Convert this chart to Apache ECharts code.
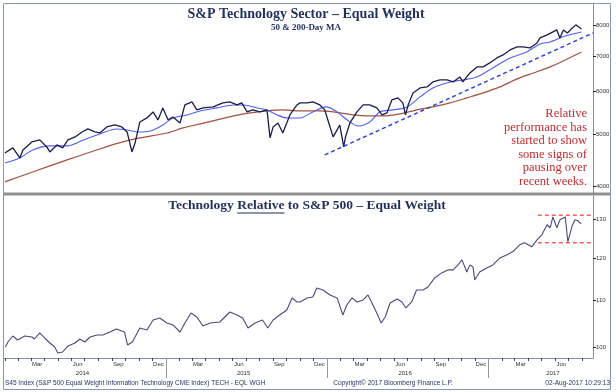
<!DOCTYPE html>
<html><head><meta charset="utf-8">
<script src="https://cdn.jsdelivr.net/npm/echarts@6/dist/echarts.min.js"></script>
<style>html,body{margin:0;padding:0;background:#fff}#c{width:616px;height:392px}</style>
</head><body><div id="c"></div>
<script>
// ---- data ----
const techPrice = [['2014-01-01',4610],['2014-01-19',4711],['2014-02-04',4512],['2014-02-11',4670],['2014-03-03',4834],['2014-03-21',4876],['2014-04-06',4731],['2014-04-13',4630],['2014-04-29',4772],['2014-05-12',4711],['2014-05-24',4876],['2014-06-09',4939],['2014-06-25',5046],['2014-07-08',5112],['2014-07-24',5046],['2014-08-04',5024],['2014-08-20',5156],['2014-09-07',5200],['2014-09-23',5156],['2014-10-05',5046],['2014-10-16',4630],['2014-10-23',4813],['2014-11-03',5268],['2014-11-19',5360],['2014-12-03',5500],['2014-12-14',5314],['2014-12-25',5596],['2015-01-06',5314],['2015-01-17',5383],['2015-02-02',5245],['2015-02-13',5668],['2015-03-01',5742],['2015-03-12',5548],['2015-03-26',5596],['2015-04-18',5620],['2015-05-10',5718],['2015-05-26',5742],['2015-06-11',5668],['2015-06-22',5718],['2015-07-04',5500],['2015-07-17',5548],['2015-08-02',5500],['2015-08-18',5548],['2015-08-25',4918],['2015-09-01',5156],['2015-09-12',5245],['2015-09-23',5024],['2015-10-09',5429],['2015-10-25',5668],['2015-11-01',5718],['2015-11-17',5718],['2015-11-30',5742],['2015-12-16',5668],['2015-12-27',5548],['2016-01-08',5156],['2016-01-15',4939],['2016-01-24',5090],['2016-01-30',5200],['2016-02-08',4731],['2016-02-12',4939],['2016-02-22',5245],['2016-03-09',5500],['2016-03-23',5668],['2016-04-07',5668],['2016-04-23',5596],['2016-05-05',5429],['2016-05-16',5476],['2016-05-27',5792],['2016-06-10',5842],['2016-06-21',5718],['2016-06-27',5429],['2016-07-03',5668],['2016-07-14',5969],['2016-07-30',6099],['2016-08-15',6125],['2016-08-28',6258],['2016-09-13',6312],['2016-09-29',6312],['2016-10-13',6258],['2016-10-28',6394],['2016-11-04',6258],['2016-11-20',6505],['2016-12-06',6676],['2016-12-20',6676],['2017-01-04',6792],['2017-01-20',6939],['2017-02-03',7030],['2017-02-19',7182],['2017-03-07',7276],['2017-03-20',7276],['2017-04-05',7244],['2017-04-21',7402],['2017-04-28',7563],['2017-05-14',7661],['2017-06-05',7828],['2017-06-12',7563],['2017-06-20',7828],['2017-06-29',7727],['2017-07-10',7896],['2017-07-18',8000],['2017-07-25',7930],['2017-07-31',7862]];
const ma50 = [['2014-01-01',4416],['2014-02-04',4512],['2014-03-05',4670],['2014-04-13',4752],['2014-05-22',4752],['2014-06-28',4876],['2014-08-04',5003],['2014-09-11',5112],['2014-10-05',5090],['2014-10-28',5046],['2014-11-27',5068],['2014-12-25',5200],['2015-01-17',5360],['2015-02-18',5429],['2015-03-20',5524],['2015-04-27',5596],['2015-06-04',5668],['2015-06-26',5668],['2015-07-27',5596],['2015-08-18',5548],['2015-09-10',5429],['2015-10-03',5360],['2015-11-01',5360],['2015-11-30',5500],['2015-12-30',5620],['2016-01-24',5500],['2016-02-16',5314],['2016-03-11',5178],['2016-04-07',5268],['2016-04-30',5500],['2016-05-30',5548],['2016-07-01',5620],['2016-07-30',5867],['2016-08-28',6099],['2016-10-06',6258],['2016-11-04',6312],['2016-12-06',6394],['2017-01-11',6647],['2017-02-19',6939],['2017-03-29',7121],['2017-04-28',7370],['2017-05-21',7434],['2017-06-24',7628],['2017-07-31',7761]];
const ma200 = [['2014-01-01',4070],['2014-03-05',4248],['2014-05-22',4474],['2014-08-04',4690],['2014-09-25',4834],['2014-11-03',4918],['2015-01-04',5024],['2015-02-09',5134],['2015-03-20',5223],['2015-04-27',5314],['2015-06-04',5406],['2015-07-11',5476],['2015-08-18',5524],['2015-09-23',5548],['2015-11-01',5524],['2015-12-16',5524],['2016-01-15',5500],['2016-03-01',5429],['2016-04-01',5406],['2016-05-07',5406],['2016-06-14',5453],['2016-07-23',5548],['2016-08-28',5620],['2016-10-06',5718],['2016-11-13',5842],['2016-12-20',5969],['2017-01-27',6125],['2017-03-07',6340],['2017-04-13',6505],['2017-05-21',6676],['2017-07-31',7121]];
const trendLine = [['2015-12-27',4571],['2017-08-26',7727]];
const relative = [['2014-01-02',100.0],['2014-01-08',101.03],['2014-01-19',102.28],['2014-01-30',101.45],['2014-02-15',102.28],['2014-03-03',102.07],['2014-03-09',101.65],['2014-03-21',102.91],['2014-04-01',101.86],['2014-04-13',100.82],['2014-04-24',100.0],['2014-05-01',98.78],['2014-05-12',98.98],['2014-05-24',100.21],['2014-06-09',100.82],['2014-06-20',101.65],['2014-07-01',101.03],['2014-07-13',102.07],['2014-07-29',102.49],['2014-08-11',102.49],['2014-08-27',103.12],['2014-09-11',103.76],['2014-09-29',103.12],['2014-10-06',100.41],['2014-10-17',101.03],['2014-11-03',103.97],['2014-11-19',103.54],['2014-12-03',105.69],['2014-12-18',106.12],['2015-01-03',105.04],['2015-01-17',104.61],['2015-02-02',103.12],['2015-02-13',105.04],['2015-02-27',107.21],['2015-03-12',106.34],['2015-03-26',104.40],['2015-04-11',105.04],['2015-05-03',105.25],['2015-05-26',107.43],['2015-06-11',106.78],['2015-06-24',106.12],['2015-07-06',103.97],['2015-07-22',105.04],['2015-08-08',105.69],['2015-08-20',103.97],['2015-09-01',105.69],['2015-09-16',106.78],['2015-10-02',107.88],['2015-10-14',110.57],['2015-10-25',109.66],['2015-11-01',109.66],['2015-11-17',110.57],['2015-11-30',110.79],['2015-12-09',112.85],['2015-12-23',112.39],['2016-01-08',111.25],['2016-01-24',110.57],['2016-02-06',106.78],['2016-02-15',108.99],['2016-02-27',110.57],['2016-03-09',109.66],['2016-03-23',110.11],['2016-04-03',111.25],['2016-04-12',109.44],['2016-04-23',107.21],['2016-05-03',105.04],['2016-05-12',106.34],['2016-05-23',109.44],['2016-06-08',110.34],['2016-06-19',109.66],['2016-06-28',108.32],['2016-07-11',109.66],['2016-07-22',112.39],['2016-08-06',112.39],['2016-08-17',113.08],['2016-09-01',115.19],['2016-09-17',116.38],['2016-10-01',117.10],['2016-10-13',117.10],['2016-10-24',118.31],['2016-11-02',119.53],['2016-11-13',116.62],['2016-11-20',118.31],['2016-11-27',117.82],['2016-12-01',114.72],['2016-12-12',116.62],['2016-12-28',117.58],['2017-01-11',118.31],['2017-01-27',120.02],['2017-02-11',120.76],['2017-02-25',121.51],['2017-03-13',123.28],['2017-03-24',123.78],['2017-04-09',122.77],['2017-04-21',124.55],['2017-05-02',125.84],['2017-05-14',128.45],['2017-05-21',127.66],['2017-05-27',130.53],['2017-06-05',127.66],['2017-06-12',129.75],['2017-06-24',130.53],['2017-06-30',124.04],['2017-07-09',127.92],['2017-07-16',129.75],['2017-07-23',129.49],['2017-07-30',128.71]];
const rangeTop = [['2017-04-23',131.0],['2017-08-26',131.0]];
const rangeBottom = [['2017-04-23',123.8],['2017-08-26',123.8]];
const topTicks = [4000,5000,6000,7000,8000];
const bottomTicks = [100,110,120,130];
const monthNames = ['Jan','Feb','Mar','Apr','May','Jun','Jul','Aug','Sep','Oct','Nov','Dec'];
const labelMonths = [2,5,8,11];
const years = [2014,2015,2016,2017];
const titleTop = 'S&P Technology Sector \u2013 Equal Weight';
const subTitleTop = '50 & 200-Day MA';
const titleBottomParts = ['Technology ','Relative',' to S&P 500 \u2013 Equal Weight'];
const annotationLines = ['Relative','performance has','started to show','some signs of','pausing over','recent weeks.'];
const footerLeft = 'S45 Index (S&P 500 Equal Weight Information Technology CME Index) TECH - EQL WGH';
const footerMid = 'Copyright\u00a9 2017 Bloomberg Finance L.P.';
const footerRight = '02-Aug-2017 10:29:13';

// ---- helpers ----
const toTs = (s) => { const p = s.split('-').map(Number); return new Date(p[0], p[1]-1, p[2]).getTime(); };
const asXY = (arr) => arr.map(d => [toTs(d[0]), d[1]]);

const xMin = new Date(2013,11,30).getTime();
const xMax = new Date(2017,7,26).getTime();
const monthTicks = [];
const monthLabelVals = [];
const yearTicks = [];
const yearLabelVals = [];
years.forEach(y => {
  for (let m = 0; m < 12; m++) monthTicks.push(new Date(y,m,1).getTime());
  labelMonths.forEach(m => monthLabelVals.push(new Date(y,m,15).getTime()));
  if (y > years[0]) yearTicks.push(new Date(y,0,1).getTime());
  yearLabelVals.push(y === 2017 ? new Date(y,4,27).getTime() : new Date(y,5,26).getTime());
});
const inRange = (arr) => arr.filter(v => v >= xMin && v <= xMax);

const serif = '"Liberation Serif", "DejaVu Serif", serif';
const sans = '"Liberation Sans", Arial, sans-serif';
const navy = '#1f2f5e';

const ctx = document.createElement('canvas').getContext('2d');
const tFont = 'bold 13.5px ' + serif;
ctx.font = tFont;
const wAll = ctx.measureText(titleBottomParts.join('')).width;
const w0 = ctx.measureText(titleBottomParts[0]).width;
const w1 = ctx.measureText(titleBottomParts[1]).width;
const tCx = 307, tY = 206;
const tLeft = tCx - wAll/2;

const chart = echarts.init(document.getElementById('c'), null, {renderer:'canvas'});
const yAxisCommon = (ticks) => ({
  type:'log', logBase:10, position:'right',
  axisLine:{show:true, lineStyle:{color:'#7d8db3', width:1}},
  axisTick:{show:true, customValues:ticks, length:3, lineStyle:{color:'#222', width:1}},
  axisLabel:{customValues:ticks, fontSize:6, color:'#333', margin:3, fontFamily:sans, formatter:(v)=>String(Math.round(v))},
  splitLine:{show:false},
  name:'Log', nameLocation:'middle', nameRotate:-90, nameGap:8,
  nameTextStyle:{color:'#b5b5b5', fontSize:13, fontFamily:sans}
});
chart.setOption({
  animation:false,
  grid:[
    {left:4, right:23, top:3, height:190, outerBoundsMode:'none', containLabel:false},
    {left:4, right:23, top:196, height:162, outerBoundsMode:'none', containLabel:false}
  ],
  xAxis:[
    {type:'value', gridIndex:0, min:xMin, max:xMax, show:false},
    {type:'value', gridIndex:1, min:xMin, max:xMax,
     axisLine:{show:true, lineStyle:{color:'#7d8db3', width:1}},
     axisTick:{show:true, customValues:inRange(monthTicks), length:3, lineStyle:{color:'#444'}},
     axisLabel:{customValues:inRange(monthLabelVals), fontSize:6, color:'#333', margin:3, fontFamily:sans,
       formatter:(v)=>monthNames[new Date(v).getMonth()]},
     splitLine:{show:false}},
    {type:'value', gridIndex:1, min:xMin, max:xMax, position:'bottom',
     axisLine:{show:false},
     axisTick:{show:true, customValues:yearTicks, length:20, lineStyle:{color:'#999'}},
     axisLabel:{customValues:yearLabelVals, fontSize:6, color:'#333', margin:12, fontFamily:sans,
       formatter:(v)=>String(new Date(v).getFullYear())},
     splitLine:{show:false}}
  ],
  yAxis:[
    Object.assign(yAxisCommon(topTicks), {gridIndex:0, min:3880, max:8790}),
    Object.assign(yAxisCommon(bottomTicks), {gridIndex:1, min:97.77, max:136.24})
  ],
  series:[
    {type:'line', xAxisIndex:0, yAxisIndex:0, data:asXY(ma200), showSymbol:false, smooth:0.3,
     lineStyle:{color:'#a3513e', width:1.2}, z:2},
    {type:'line', xAxisIndex:0, yAxisIndex:0, data:asXY(ma50), showSymbol:false, smooth:0.3,
     lineStyle:{color:'#4f61f3', width:1.1}, z:3},
    {type:'line', xAxisIndex:0, yAxisIndex:0, data:asXY(techPrice), showSymbol:false,
     lineStyle:{color:'#1b1d4a', width:1.3}, z:4},
    {type:'line', xAxisIndex:0, yAxisIndex:0, data:asXY(trendLine), showSymbol:false,
     lineStyle:{color:'#3346dd', width:1.5, type:[4,3]}, z:5},
    {type:'line', xAxisIndex:1, yAxisIndex:1, data:asXY(relative), showSymbol:false,
     lineStyle:{color:'#4a4a7c', width:1.1}, z:4},
    {type:'line', xAxisIndex:1, yAxisIndex:1, data:asXY(rangeTop), showSymbol:false,
     lineStyle:{color:'#f26464', width:1.5, type:[4,3]}, z:5},
    {type:'line', xAxisIndex:1, yAxisIndex:1, data:asXY(rangeBottom), showSymbol:false,
     lineStyle:{color:'#f26464', width:1.5, type:[4,3]}, z:5}
  ],
  graphic:[
    {type:'rect', shape:{x:3.5,y:3.5,width:607,height:386}, style:{fill:null, stroke:'#8a96b8', lineWidth:1}, silent:true},
    {type:'rect', shape:{x:4,y:192.5,width:606,height:3}, style:{fill:'#8f8f8f'}, silent:true},
    {type:'text', x:306, y:14, style:{text:titleTop, font:'bold 14px '+serif, fill:navy, align:'center', verticalAlign:'middle'}},
    {type:'text', x:306, y:28, style:{text:subTitleTop, font:'bold 9px '+serif, fill:navy, align:'center', verticalAlign:'middle'}},
    {type:'text', x:tCx, y:tY, style:{text:titleBottomParts.join(''), font:tFont, fill:navy, align:'center', verticalAlign:'middle'}},
    {type:'line', shape:{x1:tLeft+w0, y1:tY+7, x2:tLeft+w0+w1, y2:tY+7}, style:{stroke:navy, lineWidth:1}},
    {type:'text', x:587, y:107, style:{text:annotationLines.join('\n'), font:'12.5px '+serif, fill:'#c42b2f', align:'right', verticalAlign:'top', lineHeight:13.5}},
    {type:'text', x:5, y:383, style:{text:footerLeft, font:'6.5px '+sans, fill:navy, align:'left', verticalAlign:'middle'}},
    {type:'text', x:393, y:383, style:{text:footerMid, font:'6.5px '+sans, fill:navy, align:'center', verticalAlign:'middle'}},
    {type:'text', x:610, y:383, style:{text:footerRight, font:'6.5px '+sans, fill:navy, align:'right', verticalAlign:'middle'}}
  ]
});
</script></body></html>
